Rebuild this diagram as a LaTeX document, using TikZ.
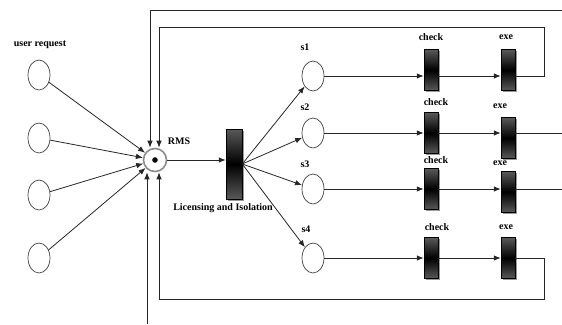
\documentclass[tikz,border=0pt]{standalone}
\usepackage{fontspec}
\setmainfont{Liberation Serif}
\usetikzlibrary{arrows.meta,shapes.geometric,shadows}
\begin{document}
\begin{tikzpicture}[x=1pt,y=-1pt,
  line/.style={draw=black!85, line width=0.8pt},
  arr/.style={line, -{Latex[length=7pt,width=5.5pt]}},
  place/.style={ellipse, draw=black!75, line width=0.7pt, fill=white, minimum width=22pt, minimum height=30pt, inner sep=0pt},
  bar/.style={rectangle, draw=black, line width=0.5pt, minimum width=14pt, minimum height=41pt, inner sep=0pt,
    top color=black!65, bottom color=black!65, middle color=black,
    drop shadow={shadow xshift=1.5pt, shadow yshift=-1.5pt, fill=black!40, opacity=1}},
  lbl/.style={font=\bfseries\fontsize{10}{11}\selectfont, inner sep=0pt}
]
\useasboundingbox (0,0) rectangle (562,324);

% user request places
\node[place] (u1) at (39,75) {};
\node[place] (u2) at (39,138) {};
\node[place] (u3) at (39,195) {};
\node[place] (u4) at (39,258) {};
\node[lbl] (ulab) at (40,45) {user request};

% RMS
\node[circle, draw=black!45, line width=1.6pt, fill=white, minimum size=23pt, inner sep=0pt] (rms) at (155,160) {};
\fill (rms.center) circle (2.8pt);
\node[lbl] (rmslab) at (179,141) {RMS};

% Licensing and Isolation
\node[bar, minimum width=16pt, minimum height=70pt] (lic) at (234,164) {};
\node[lbl] (liclab) at (223,208) {Licensing and Isolation};

% s places
\node[place] (s1) at (313,76) {};
\node[place] (s2) at (313,133) {};
\node[place] (s3) at (313,189) {};
\node[place] (s4) at (313,258) {};
\node[lbl] (s1lab) at (305,47) {s1};
\node[lbl] (s2lab) at (305,107) {s2};
\node[lbl] (s3lab) at (305,164) {s3};
\node[lbl] (s4lab) at (306,229) {s4};

% check / exe bars
\node[bar] (c1) at (431,70) {};
\node[bar] (c2) at (431,133) {};
\node[bar] (c3) at (431,189) {};
\node[bar] (c4) at (431,258) {};
\node[bar] (e1) at (508,70) {};
\node[bar] (e2) at (508,138) {};
\node[bar] (e3) at (508,192) {};
\node[bar] (e4) at (508,258) {};
\node[lbl] (c1lab) at (431,37) {check};
\node[lbl] (c2lab) at (436,102) {check};
\node[lbl] (c3lab) at (436,160) {check};
\node[lbl] (c4lab) at (437,227) {check};
\node[lbl] (e1lab) at (506,37) {exe};
\node[lbl] (e2lab) at (500,106) {exe};
\node[lbl] (e3lab) at (500,163) {exe};
\node[lbl] (e4lab) at (506,227) {exe};

% helper coordinates
\coordinate (edge) at (562,0);
\coordinate (tr) at (544,27);
\coordinate (tl) at (159,27);
\coordinate (otl) at (150,10);
\coordinate (otr) at (562,10);
\coordinate (br) at (544,299);
\coordinate (bl) at (159,299);
\coordinate (fb) at (147,324);

% connectors into RMS
\draw[arr] (u1) -- (rms);
\draw[arr] (u2) -- (rms);
\draw[arr] (u3) -- (rms);
\draw[arr] (u4) -- (rms);
\draw[arr] (otr) -- (otl) -- (otl |- rms.north);
\draw[arr] (s1 -| e1.east) -| (tr) -- (tl) -- (tl |- rms.north);
\draw[arr] (s4 -| e4.east) -| (br) -- (bl) -- (bl |- rms.south);
\draw[arr] (fb) -- (fb |- rms.south);

% RMS to licensing
\draw[arr] (rms.east) -- (rms.east -| lic.west);

% licensing to s places
\draw[arr] (lic.east) -- (s1);
\draw[arr] (lic.east) -- (s2);
\draw[arr] (lic.east) -- (s3);
\draw[arr] (lic.east) -- (s4);

% rows
\foreach \i in {1,2,3,4}{
  \draw[arr] (s\i) -- (s\i -| c\i.west);
  \draw[arr] (s\i -| c\i.east) -- (s\i -| e\i.west);
}
\draw[line] (s2 -| e2.east) -- (s2 -| edge);
\draw[line] (s3 -| e3.east) -- (s3 -| edge);
\end{tikzpicture}
\end{document}
